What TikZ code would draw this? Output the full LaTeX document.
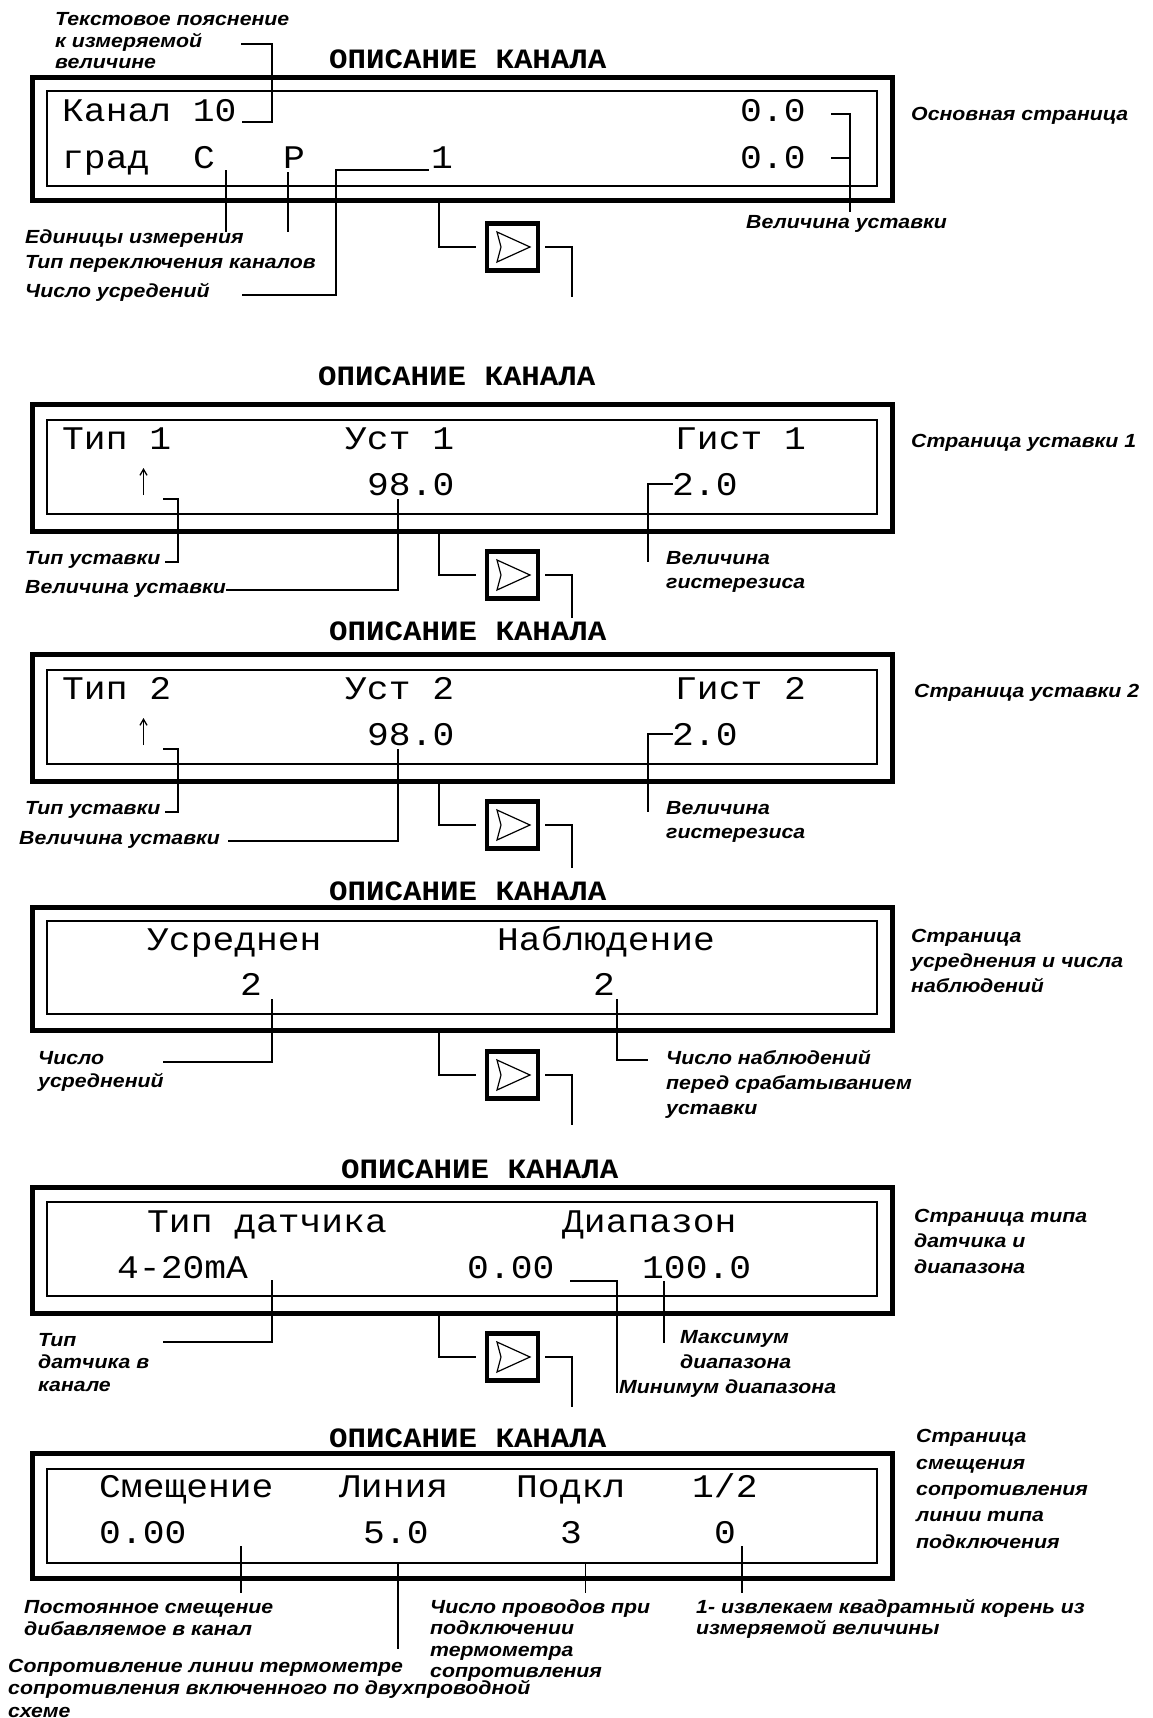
\documentclass[tikz,border=0pt]{standalone}
\usepackage{fontspec}
\usetikzlibrary{arrows.meta}
\newfontfamily\lcdfont[FakeStretch=1.1]{Liberation Mono}
\newfontfamily\headfont[FakeStretch=1.1]{Liberation Mono}
\newfontfamily\notefont[FakeStretch=1.12]{Liberation Sans}

\begin{document}
\begin{tikzpicture}[x=1pt,y=-1pt,line cap=butt,line join=miter]
\useasboundingbox (0,0) rectangle (1153,1718);
\path[fill=white] (0,0) rectangle (1153,1718);
\tikzset{frame/.style={draw=black,line width=5pt},glass/.style={draw=black,line width=1.4pt},lead/.style={draw=black,line width=1.5pt},
 lcd/.style={anchor=base west,inner sep=0pt,font=\lcdfont\fontsize{33}{33}\selectfont},
 head/.style={anchor=base west,inner sep=0pt,font=\headfont\bfseries\fontsize{28}{28}\selectfont},
 note/.style={anchor=base west,inner sep=0pt,align=left,font=\notefont\bfseries\itshape\fontsize{19}{#1}\selectfont},note/.default=22,
 pgbox/.style={draw=black,line width=4.5pt,minimum width=51pt,minimum height=47pt,inner sep=0pt},
 tri/.style={draw=black,line width=1.2pt},
 updir/.style={draw=black,line width=1.3pt,-{Straight Barb[length=6pt,width=7pt]}}}
% page switch buttons between the screens
\foreach \n/\yb/\ym/\ye in {1/202/247/297,2/531/575/618,3/780/825/868,4/1030/1075/1125,5/1313/1357/1407}{
 \node[pgbox] (pg\n) at (512.5,\ym) {};
 \draw[tri,shift={(pg\n.center)}] (-15.5,-15) -- (17.5,0) -- (-15.5,15) -- (-11.5,0) -- cycle;
 \draw[lead] (439,\yb) -- (439,\ym) -- (476,\ym);
 \draw[lead] (545,\ym) -- (572,\ym) -- (572,\ye);
}
% main page
\draw[frame] (32.5,78) rectangle (892,200);
\draw[glass] (47,91) rectangle (877,186);
\node[head] (t1) at (329,69) {ОПИСАНИЕ КАНАЛА};
\node[lcd] (k1name) at (62,122) {Канал 10}; \node[lcd] (k1top) at (740,122) {0.0};
\node[lcd] (k1unit) at (62,168) {град}; \node[lcd] (k1c) at (193,168) {С}; \node[lcd] (k1p) at (283,168) {Р};
\node[lcd] (k1avg) at (431,168) {1}; \node[lcd] (k1low) at (740,168) {0.0};
\draw[lead] (242,122) -- (272,122) -- (272,44) -- (241,44);
\draw[lead] (226,170) -- (226,232); \draw[lead] (288,172) -- (288,232);
\draw[lead] (242,295) -- (336,295) -- (336,170) -- (429,170);
\draw[lead] (831,114) -- (850,114) -- (850,212); \draw[lead] (831,158) -- (850,158);
\node[note=21.5] (n1text) at (55,69) {Текстовое пояснение\\к измеряемой\\величине};
\node[note] (n1unit) at (25,243) {Единицы измерения};
\node[note] (n1sw) at (25,268) {Тип переключения каналов};
\node[note] (n1avg) at (25,297) {Число усредений};
\node[note] (n1page) at (911,121) {Основная страница};
\node[note] (n1set) at (746,228) {Величина уставки};
% setpoint 1
\draw[frame] (32.5,404) rectangle (892,531);
\draw[glass] (47,420) rectangle (877,514);
\node[head] (t2) at (318,385) {ОПИСАНИЕ КАНАЛА};
\node[lcd] (k2type) at (62,449) {Тип 1}; \node[lcd] (k2set) at (345,449) {Уст 1}; \node[lcd] (k2hyst) at (675,449) {Гист 1};
\node[lcd] (k2val) at (367,495) {98.0}; \node[lcd] (k2hval) at (672,495) {2.0};
\draw[updir] (143.5,495) -- (143.5,468);
\draw[lead] (163,499) -- (178,499) -- (178,562) -- (165,562);
\draw[lead] (398,499) -- (398,590) -- (226,590);
\draw[lead] (673,484) -- (648,484) -- (648,562);
\node[note] (n2type) at (25,564) {Тип уставки};
\node[note] (n2set) at (25,593) {Величина уставки};
\node[note=24] (n2hyst) at (666,588) {Величина\\гистерезиса};
\node[note] (n2page) at (911,447) {Страница уставки 1};
% setpoint 2
\draw[frame] (32.5,654) rectangle (892,781);
\draw[glass] (47,670) rectangle (877,764);
\node[head] (t3) at (329,640) {ОПИСАНИЕ КАНАЛА};
\node[lcd] (k3type) at (62,699) {Тип 2}; \node[lcd] (k3set) at (345,699) {Уст 2}; \node[lcd] (k3hyst) at (675,699) {Гист 2};
\node[lcd] (k3val) at (367,745) {98.0}; \node[lcd] (k3hval) at (672,745) {2.0};
\draw[updir] (143.5,745) -- (143.5,718);
\draw[lead] (163,749) -- (178,749) -- (178,812) -- (165,812);
\draw[lead] (398,749) -- (398,841) -- (228,841);
\draw[lead] (673,734) -- (648,734) -- (648,812);
\node[note] (n3type) at (25,814) {Тип уставки};
\node[note] (n3set) at (19,844) {Величина уставки};
\node[note=24] (n3hyst) at (666,838) {Величина\\гистерезиса};
\node[note] (n3page) at (914,697) {Страница уставки 2};
% averaging
\draw[frame] (32.5,907) rectangle (892,1030);
\draw[glass] (47,921) rectangle (877,1014);
\node[head] (t4) at (329,900) {ОПИСАНИЕ КАНАЛА};
\node[lcd] (k4avg) at (147,950) {Усреднен}; \node[lcd] (k4obs) at (497,950) {Наблюдение};
\node[lcd] (k4an) at (240,995) {2}; \node[lcd] (k4on) at (593,995) {2};
\draw[lead] (272,999) -- (272,1062) -- (163,1062);
\draw[lead] (617,999) -- (617,1060) -- (648,1060);
\node[note=23] (n4avg) at (38,1087) {Число\\усреднений};
\node[note=25] (n4obs) at (666,1114) {Число наблюдений\\перед срабатыванием\\уставки};
\node[note=25] (n4page) at (911,992) {Страница\\усреднения и числа\\наблюдений};
% sensor and range
\draw[frame] (32.5,1187) rectangle (892,1313);
\draw[glass] (47,1202) rectangle (877,1296);
\node[head] (t5) at (341,1178) {ОПИСАНИЕ КАНАЛА};
\node[lcd] (k5type) at (147,1232) {Тип датчика}; \node[lcd] (k5rng) at (562,1232) {Диапазон};
\node[lcd] (k5sig) at (117,1278) {4-20mA}; \node[lcd] (k5min) at (467,1278) {0.00}; \node[lcd] (k5max) at (642,1278) {100.0};
\draw[lead] (272,1280) -- (272,1342) -- (163,1342);
\draw[lead] (570,1281) -- (617,1281) -- (617,1393);
\draw[lead] (664,1281) -- (664,1343);
\node[note=22.5] (n5type) at (38,1391) {Тип\\датчика в\\канале};
\node[note] (n5min) at (619,1393) {Минимум диапазона};
\node[note=25] (n5max) at (680,1368) {Максимум\\диапазона};
\node[note=25.5] (n5page) at (914,1273) {Страница типа\\датчика и\\диапазона};
% offset and line
\draw[frame] (32.5,1453) rectangle (892,1578);
\draw[glass] (47,1469) rectangle (877,1563);
\node[head] (t6) at (329,1447) {ОПИСАНИЕ КАНАЛА};
\node[lcd] (k6off) at (99,1497) {Смещение}; \node[lcd] (k6line) at (339,1497) {Линия}; \node[lcd] (k6con) at (516,1497) {Подкл}; \node[lcd] (k6sq) at (692,1497) {1/2};
\node[lcd] (k6offv) at (99,1543) {0.00}; \node[lcd] (k6linev) at (363,1543) {5.0}; \node[lcd] (k6conv) at (560,1543) {3}; \node[lcd] (k6sqv) at (714,1543) {0};
\draw[lead] (241,1546) -- (241,1593); \draw[lead] (398,1562) -- (398,1649);
\draw[lead] (585.5,1563) -- (585.5,1593); \draw[lead] (742,1546) -- (742,1593);
\node[note] (n6off) at (24,1635) {Постоянное смещение\\дибавляемое в канал};
\node[note=22.5] (n6line) at (8,1717) {Сопротивление линии термометре\\сопротивления включенного по двухпроводной\\схеме};
\node[note=21.5] (n6con) at (430,1677.5) {Число проводов при\\подключении\\термометра\\сопротивления};
\node[note=21] (n6sq) at (696,1634) {1- извлекаем квадратный корень из\\измеряемой величины};
\node[note=26.3] (n6page) at (916,1548) {Страница\\смещения\\сопротивления\\линии типа\\подключения};
\end{tikzpicture}
\end{document}
